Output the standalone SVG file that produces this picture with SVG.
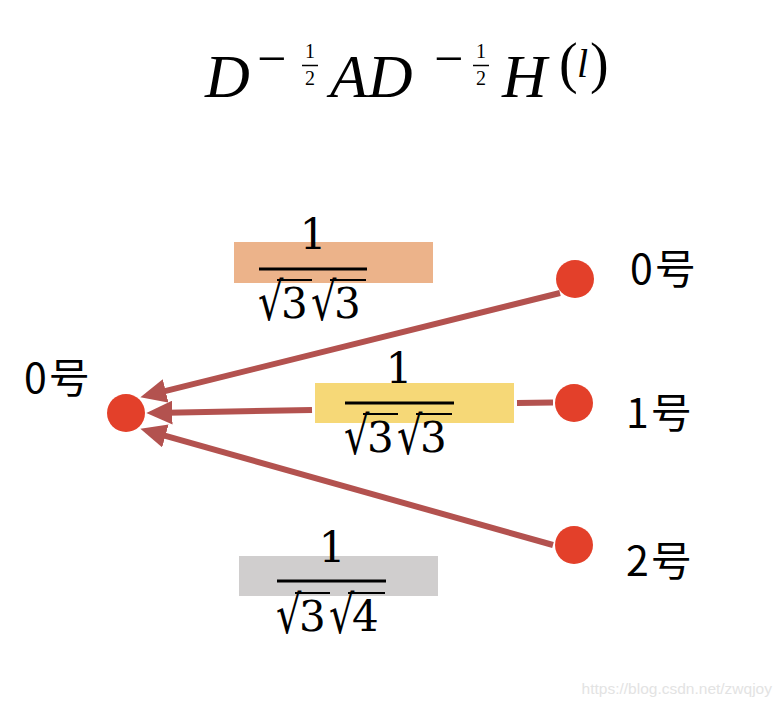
<svg xmlns="http://www.w3.org/2000/svg" width="782" height="708" viewBox="0 0 782 708">
<style>
.node{fill:#E3402A}
.edge{stroke:#B3524F;stroke-width:6;fill:none}
.lbl{font-family:"Noto Sans CJK SC","Noto Sans",sans-serif;font-size:41px;fill:#000}
.math{font-family:"Liberation Serif","DejaVu Serif",serif;font-style:italic;fill:#000}
.num{font-family:"DejaVu Serif",serif;font-size:42px;fill:#000}
.bar{stroke:#000;stroke-width:3}
.vin{stroke:#000;stroke-width:2.2}
</style>
<defs>
<marker id="ah" markerUnits="userSpaceOnUse" markerWidth="26" markerHeight="24" viewBox="0 0 24 22" refX="16" refY="11" orient="auto">
<path d="M0,0 L24,11 L0,22 z" fill="#B3524F"/>
</marker>
</defs>
<rect width="782" height="708" fill="#fff"/>
<g id="formula" class="math">
<text x="205" y="97" font-size="62">D</text>
<text x="257" y="76" font-size="52" font-style="normal">−</text>
<text x="310" y="58" font-size="20" font-style="normal" text-anchor="middle">1</text>
<line x1="302" y1="65.5" x2="318" y2="65.5" stroke="#000" stroke-width="1.5"/>
<text x="310" y="85" font-size="20" font-style="normal" text-anchor="middle">2</text>
<text x="330" y="97" font-size="62">AD</text>
<text x="434" y="76" font-size="52" font-style="normal">−</text>
<text x="481" y="58" font-size="20" font-style="normal" text-anchor="middle">1</text>
<line x1="473" y1="65.5" x2="489" y2="65.5" stroke="#000" stroke-width="1.5"/>
<text x="481" y="85" font-size="20" font-style="normal" text-anchor="middle">2</text>
<text x="502" y="97" font-size="62">H</text>
<text x="559" y="82" font-size="56" font-style="normal">(</text>
<text x="577" y="77" font-size="40">l</text>
<text x="590" y="82" font-size="56" font-style="normal">)</text>
</g>
<g id="w01">
<rect x="234" y="242" width="199" height="41" fill="#ECB38A"/>
<text class="num" x="313" y="249" text-anchor="middle">1</text>
<line class="bar" x1="259" y1="269" x2="367" y2="269"/>
<text class="num" transform="translate(258,320) scale(0.95,1.25)">√</text>
<text class="num" x="281" y="318">3</text>
<text class="num" transform="translate(311,320) scale(0.95,1.25)">√</text>
<text class="num" x="334" y="318">3</text>
<line class="vin" x1="277" y1="280" x2="312" y2="280"/>
<line class="vin" x1="330" y1="280" x2="366" y2="280"/>
</g>
<g id="w11">
<rect x="315" y="383" width="199" height="40" fill="#F6D877"/>
<text class="num" x="399" y="383" text-anchor="middle">1</text>
<line class="bar" x1="345" y1="403" x2="454" y2="403"/>
<text class="num" transform="translate(344,454) scale(0.95,1.25)">√</text>
<text class="num" x="367" y="452">3</text>
<text class="num" transform="translate(397,454) scale(0.95,1.25)">√</text>
<text class="num" x="420" y="452">3</text>
<line class="vin" x1="363" y1="414" x2="398" y2="414"/>
<line class="vin" x1="416" y1="414" x2="452" y2="414"/>
</g>
<g id="w21">
<rect x="239" y="556" width="199" height="40" fill="#D0CECE"/>
<text class="num" x="332" y="562" text-anchor="middle">1</text>
<line class="bar" x1="277" y1="581" x2="386" y2="581"/>
<text class="num" transform="translate(276,633) scale(0.95,1.25)">√</text>
<text class="num" x="299" y="631">3</text>
<text class="num" transform="translate(329,633) scale(0.95,1.25)">√</text>
<text class="num" x="352" y="631">4</text>
<line class="vin" x1="295" y1="593" x2="330" y2="593"/>
<line class="vin" x1="348" y1="593" x2="385" y2="593"/>
</g>
<g id="edges">
<line class="edge" x1="560" y1="293" x2="148.8" y2="395.1" marker-end="url(#ah)"/>
<line class="edge" x1="312" y1="410" x2="155" y2="412.9" marker-end="url(#ah)"/>
<line class="edge" x1="517" y1="403" x2="553" y2="402.5"/>
<line class="edge" x1="553" y1="545" x2="148.7" y2="431.2" marker-end="url(#ah)"/>
</g>
<g id="n_left"><circle class="node" cx="126" cy="413" r="19"/><text class="lbl" x="24" y="393">0<tspan dx="2">号</tspan></text></g>
<g id="n_r0"><circle class="node" cx="575" cy="279" r="19"/><text class="lbl" x="630" y="284">0<tspan dx="2">号</tspan></text></g>
<g id="n_r1"><circle class="node" cx="574" cy="403" r="19"/><text class="lbl" x="626" y="428">1<tspan dx="2">号</tspan></text></g>
<g id="n_r2"><circle class="node" cx="574" cy="545" r="19"/><text class="lbl" x="626" y="576">2<tspan dx="2">号</tspan></text></g>
<text x="772" y="694" text-anchor="end" font-family="Liberation Sans,Arial,sans-serif" font-size="15.5" fill="#e3e3e3">https://blog.csdn.net/zwqjoy</text>
</svg>
